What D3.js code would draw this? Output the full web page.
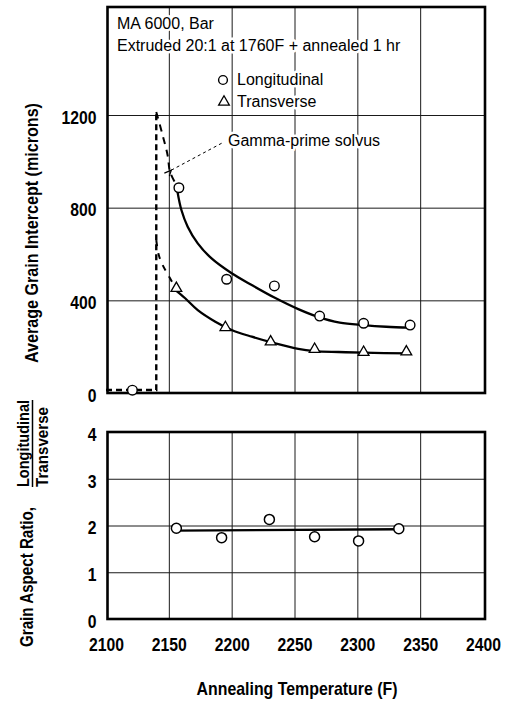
<!DOCTYPE html>
<html>
<head>
<meta charset="utf-8">
<script src="https://cdn.jsdelivr.net/npm/d3@7"></script>
<style>
  html, body { margin: 0; padding: 0; background: #fff; }
  svg { display: block; }
  .lbl { font-family: "Liberation Sans", Arial, sans-serif; font-weight: bold; fill: #000; }
  .note { font-family: "Liberation Sans", Arial, sans-serif; font-size: 16px; fill: #000;
          stroke: #fff; stroke-width: 5px; paint-order: stroke; stroke-linejoin: round; }
</style>
</head>
<body>
<svg id="chart" width="513" height="704"></svg>
<script>
// Annealing temperature ticks (F) and value ticks for both panels
const tempTicks = [2100, 2150, 2200, 2250, 2300, 2350, 2400];
const grainTicks = [0, 400, 800, 1200];
const ratioTicks = [0, 1, 2, 3, 4];

// Measured grain intercepts (microns)
const longTemp  = [2121, 2158, 2196, 2234, 2270, 2305, 2342];
const longGrain = [12, 886, 491, 462, 332, 301, 293];
const transTemp  = [2156, 2195, 2231, 2266, 2305, 2339];
const transGrain = [452, 283, 221, 189, 176, 178];

// Faired curves through the data
const longFitTemp  = [2157, 2160, 2165, 2173, 2184, 2200, 2216, 2234, 2253, 2268, 2286, 2305, 2323, 2342];
const longFitGrain = [865, 790, 718, 646, 581, 517, 466, 412, 362, 330, 304, 293, 286, 282];
const transFitTemp  = [2155, 2163, 2173, 2187, 2200, 2216, 2234, 2253, 2266, 2285, 2305, 2342];
const transFitGrain = [445, 409, 358, 308, 272, 243, 215, 190, 181, 177, 174, 171];

// Gamma-prime solvus: step boundary and the dashed transitions toward each curve
const solvusStepTemp  = [2100, 2140, 2140];
const solvusStepGrain = [13, 13, 1221];
const solvusUpperTemp  = [2140, 2145, 2149, 2151, 2156];
const solvusUpperGrain = [1213, 1114, 1027, 954, 898];
const solvusLowerTemp  = [2140, 2142, 2145, 2149, 2153];
const solvusLowerGrain = [660, 596, 553, 514, 475];
const leaderTemp  = [2192, 2152];
const leaderGrain = [1078, 962];

// Grain aspect ratio (longitudinal / transverse)
const ratioTemp  = [2156, 2192, 2230, 2266, 2301, 2333];
const ratioValue = [1.94, 1.74, 2.13, 1.76, 1.67, 1.93];
const ratioFitTemp  = [2156, 2333];
const ratioFitValue = [1.89, 1.92];

const svg = d3.select("#chart");

const x = d3.scaleLinear().domain([2100, 2400]).range([106, 483]);
const yTop = d3.scaleLinear().domain([0, 1200]).range([393, 115]);
const yBot = d3.scaleLinear().domain([0, 4]).range([619, 432]);

const frameL = 107.5, frameR = 485;
const topFrame = { t: 7, b: 393 };
const botFrame = { t: 432, b: 619 };

const zip = (a, b) => a.map((v, i) => [v, b[i]]);

// squeeze bold labels into a condensed face
function condense(sel, k) {
  sel.each(function () {
    const len = this.getComputedTextLength();
    this.setAttribute("textLength", len * k);
    this.setAttribute("lengthAdjust", "spacingAndGlyphs");
  });
}
function fixedLength(sel, len) {
  sel.attr("textLength", len).attr("lengthAdjust", "spacingAndGlyphs");
}

function gridAndFrame(y, frame, ticks, showX) {
  const g = svg.append("g");
  // horizontal grid with value labels
  const ya = d3.axisLeft(y).tickValues(ticks).tickFormat(d3.format("d"))
    .tickSize(-(frameR - frameL)).tickPadding(11);
  const gy = g.append("g").attr("transform", `translate(${frameL},0)`).call(ya);
  gy.select(".domain").remove();
  gy.selectAll("line").attr("stroke", "#1a1a1a").attr("stroke-width", 1);
  gy.selectAll("text").attr("class", "lbl").style("font-size", "18.5px").attr("dy", "0.45em")
    .call(condense, 0.85);
  // vertical grid
  const xa = d3.axisBottom(x).tickValues(tempTicks)
    .tickSize(-(frame.b - frame.t)).tickPadding(19)
    .tickFormat(showX ? d3.format("d") : "");
  const gx = g.append("g").attr("transform", `translate(0,${frame.b})`).call(xa);
  gx.select(".domain").remove();
  gx.selectAll("line").attr("stroke", "#1a1a1a").attr("stroke-width", 1)
    .filter(d => d === 2100 || d === 2400).remove();
  if (showX) {
    gx.selectAll("text").attr("class", "lbl").style("font-size", "18.5px").call(condense, 0.85);
  }
  // frame
  g.append("rect").attr("x", frameL).attr("y", frame.t)
    .attr("width", frameR - frameL).attr("height", frame.b - frame.t)
    .attr("fill", "none").attr("stroke", "#000").attr("stroke-width", 2.6);
  return g;
}

gridAndFrame(yTop, topFrame, grainTicks, false);
gridAndFrame(yBot, botFrame, ratioTicks, true);

// annotations in the upper panel
svg.append("text").attr("class", "note").attr("x", 117).attr("y", 29).text("MA 6000, Bar");
svg.append("text").attr("class", "note").attr("x", 117).attr("y", 51).text("Extruded 20:1 at 1760F + annealed 1 hr");
svg.append("text").attr("class", "note").attr("x", 237).attr("y", 85).text("Longitudinal");
svg.append("text").attr("class", "note").attr("x", 237).attr("y", 107).text("Transverse");
svg.append("text").attr("class", "note").attr("x", 228).attr("y", 146).text("Gamma-prime solvus");

const circleR = 4.4;
const triSym = d3.symbol().type(d3.symbolTriangle).size(50);

// legend markers
svg.append("circle").attr("cx", 223).attr("cy", 80).attr("r", circleR)
  .attr("fill", "#fff").attr("stroke", "#000").attr("stroke-width", 1.4);
svg.append("path").attr("d", triSym()).attr("transform", "translate(224,102)")
  .attr("fill", "#fff").attr("stroke", "#000").attr("stroke-width", 1.3);

const lineTop = d3.line().x(d => x(d[0])).y(d => yTop(d[1]));
const curveTop = d3.line().x(d => x(d[0])).y(d => yTop(d[1])).curve(d3.curveCatmullRom.alpha(0.5));

// solvus boundary and transitions
const dashed = { stroke: "#000", "stroke-width": 2.4, "stroke-dasharray": "6,4", fill: "none" };
function styled(sel, st) { Object.entries(st).forEach(([k, v]) => sel.attr(k, v)); return sel; }
styled(svg.append("path").attr("d", lineTop(zip(solvusStepTemp, solvusStepGrain))), dashed);
styled(svg.append("path").attr("d", curveTop(zip(solvusUpperTemp, solvusUpperGrain))), dashed)
  .attr("stroke-width", 2).attr("stroke-dasharray", "7,6");
styled(svg.append("path").attr("d", curveTop(zip(solvusLowerTemp, solvusLowerGrain))), dashed)
  .attr("stroke-width", 2).attr("stroke-dasharray", "6,7");

// leader from the solvus label
svg.append("path").attr("d", lineTop(zip(leaderTemp, leaderGrain)))
  .attr("stroke", "#000").attr("stroke-width", 1).attr("stroke-dasharray", "3,3").attr("fill", "none");
const tip = [x(leaderTemp[1]), yTop(leaderGrain[1])];
svg.append("path").attr("d", `M${tip[0] - 7},${tip[1] + 3}L${tip[0]},${tip[1]}L${tip[0] - 2},${tip[1] + 6}`)
  .attr("stroke", "#000").attr("stroke-width", 1.2).attr("fill", "none");

// faired curves
svg.append("path").attr("d", curveTop(zip(longFitTemp, longFitGrain)))
  .attr("stroke", "#000").attr("stroke-width", 2.3).attr("fill", "none");
svg.append("path").attr("d", curveTop(zip(transFitTemp, transFitGrain)))
  .attr("stroke", "#000").attr("stroke-width", 2.3).attr("fill", "none");

// data markers
svg.append("g").selectAll("circle").data(zip(longTemp, longGrain)).join("circle")
  .attr("cx", d => x(d[0])).attr("cy", d => yTop(d[1])).attr("r", circleR + 0.4)
  .attr("fill", "#fff").attr("stroke", "#000").attr("stroke-width", 1.4);
svg.append("g").selectAll("path").data(zip(transTemp, transGrain)).join("path")
  .attr("d", triSym).attr("transform", d => `translate(${x(d[0])},${yTop(d[1])})`)
  .attr("fill", "#fff").attr("stroke", "#000").attr("stroke-width", 1.3);

// aspect ratio panel
const lineBot = d3.line().x(d => x(d[0])).y(d => yBot(d[1]));
svg.append("path").attr("d", lineBot(zip(ratioFitTemp, ratioFitValue)))
  .attr("stroke", "#000").attr("stroke-width", 2.3).attr("fill", "none");
svg.append("g").selectAll("circle").data(zip(ratioTemp, ratioValue)).join("circle")
  .attr("cx", d => x(d[0])).attr("cy", d => yBot(d[1])).attr("r", circleR + 0.6)
  .attr("fill", "#fff").attr("stroke", "#000").attr("stroke-width", 1.5);

// axis titles
svg.append("text").attr("class", "lbl").style("font-size", "19px")
  .attr("x", 297).attr("y", 695).attr("text-anchor", "middle")
  .text("Annealing Temperature (F)").call(fixedLength, 201);
svg.append("text").attr("class", "lbl").style("font-size", "19px")
  .attr("transform", "translate(38,233) rotate(-90)").attr("text-anchor", "middle")
  .text("Average Grain Intercept (microns)").call(fixedLength, 260);

const ratioTitle = svg.append("g").attr("transform", "rotate(-90)");
ratioTitle.append("text").attr("class", "lbl").style("font-size", "18px")
  .attr("x", -647).attr("y", 33).text("Grain Aspect Ratio,").call(fixedLength, 140);
ratioTitle.append("text").attr("class", "lbl").style("font-size", "17px")
  .attr("x", -487).attr("y", 28.5).text("Longitudinal").call(fixedLength, 87);
ratioTitle.append("text").attr("class", "lbl").style("font-size", "17px")
  .attr("x", -487).attr("y", 48).text("Transverse").call(fixedLength, 80);
ratioTitle.append("line").attr("x1", -487).attr("x2", -400).attr("y1", 32.5).attr("y2", 32.5)
  .attr("stroke", "#000").attr("stroke-width", 1.5);
</script>
</body>
</html>
